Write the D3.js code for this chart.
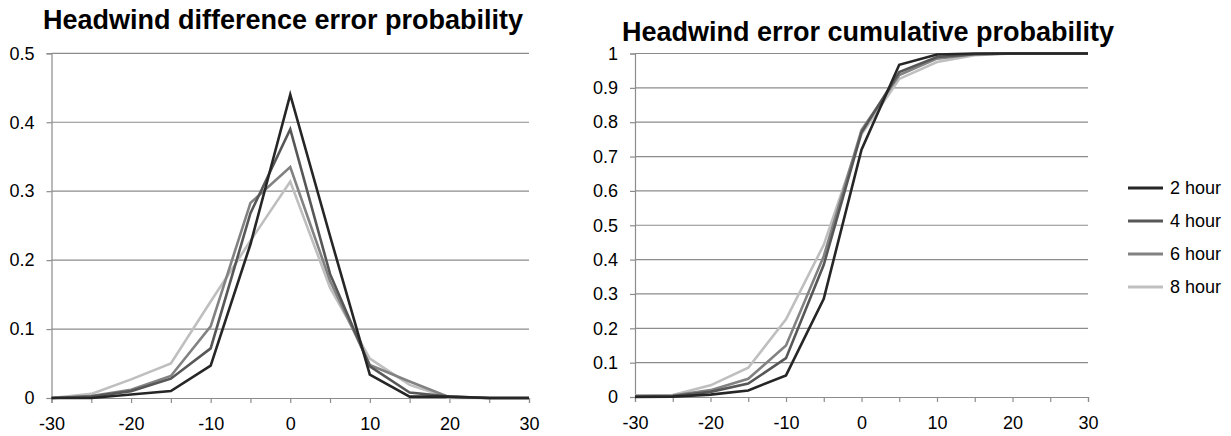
<!DOCTYPE html>
<html>
<head>
<meta charset="utf-8">
<script src="https://cdn.jsdelivr.net/npm/d3@7"></script>
<style>
  body { margin: 0; background: #fff; }
  svg { font-family: "Liberation Sans", Arial, sans-serif; }
</style>
</head>
<body>
<svg id="chart" width="1231" height="436"></svg>
<script>
// error bins (knots)
const errorBins = [-30, -25, -20, -15, -10, -5, 0, 5, 10, 15, 20, 25, 30];
const seriesNames = ["2 hour", "4 hour", "6 hour", "8 hour"];
const seriesColors = ["#262626", "#575757", "#828282", "#bfbfbf"];

// probability of each error bin
const prob2h = [0, 0, 0.005, 0.01, 0.047, 0.223, 0.44, 0.235, 0.034, 0.002, 0.002, 0, 0];
const prob4h = [0, 0.002, 0.01, 0.028, 0.072, 0.268, 0.39, 0.18, 0.046, 0.008, 0.002, 0, 0];
const prob6h = [0, 0.003, 0.012, 0.032, 0.104, 0.283, 0.335, 0.17, 0.048, 0.024, 0.001, 0, 0];
const prob8h = [0, 0.006, 0.027, 0.05, 0.14, 0.228, 0.314, 0.16, 0.057, 0.019, 0, 0, 0];

// cumulative probability
const cum2h = [0, 0.001, 0.007, 0.019, 0.063, 0.286, 0.72, 0.967, 0.997, 1, 1, 1, 1];
const cum4h = [0.002, 0.003, 0.015, 0.039, 0.113, 0.385, 0.77, 0.946, 0.99, 0.998, 1, 1, 1];
const cum6h = [0.003, 0.004, 0.02, 0.053, 0.15, 0.41, 0.777, 0.937, 0.985, 0.998, 1, 1, 1];
const cum8h = [0.005, 0.006, 0.034, 0.085, 0.226, 0.443, 0.765, 0.926, 0.975, 0.995, 1, 1, 1];

const xTicks = [-30, -20, -10, 0, 10, 20, 30];
const xMinorTicks = [-30, -25, -20, -15, -10, -5, 0, 5, 10, 15, 20, 25, 30];
const probTicks = [0, 0.1, 0.2, 0.3, 0.4, 0.5];
const cumTicks = [0, 0.1, 0.2, 0.3, 0.4, 0.5, 0.6, 0.7, 0.8, 0.9, 1];

const svg = d3.select("#chart");
const gridColor = "#8c8c8c";

const drawChart = (cfg) => {
    const g = svg.append("g");

    const x = d3.scaleLinear().domain([-30, 30]).range([cfg.left, cfg.right]);
    const y = d3.scaleLinear().domain([0, cfg.yMax]).range([cfg.bottom, cfg.top]);

    // title
    g.append("text")
        .attr("x", cfg.titleX)
        .attr("y", cfg.titleY)
        .attr("text-anchor", "middle")
        .style("font-size", "27px")
        .style("font-weight", "bold")
        .text(cfg.title);

    // horizontal gridlines
    g.selectAll(".grid")
        .data(cfg.yTicks.filter(d => d > 0))
        .enter().append("line")
        .attr("x1", cfg.left)
        .attr("x2", cfg.right)
        .attr("y1", d => y(d))
        .attr("y2", d => y(d))
        .attr("stroke", gridColor)
        .attr("stroke-width", 1.2);

    // y axis
    const yAxis = g.append("g")
        .attr("transform", `translate(${cfg.left},0)`)
        .call(d3.axisLeft(y).tickValues(cfg.yTicks).tickSize(5).tickPadding(12).tickFormat(d3.format("")));

    // x axis
    const xAxis = g.append("g")
        .attr("transform", `translate(0,${cfg.bottom})`)
        .call(d3.axisBottom(x).tickValues(xMinorTicks).tickSize(5).tickPadding(14)
            .tickFormat(d => xTicks.includes(d) ? d : ""));

    [yAxis, xAxis].forEach(a => {
        a.attr("font-size", 18).attr("font-family", "'Liberation Sans', Arial, sans-serif");
        a.select(".domain").attr("stroke", gridColor).attr("stroke-width", 1.2);
        a.selectAll(".tick line").attr("stroke", gridColor).attr("stroke-width", 1.2);
        a.selectAll("text").attr("fill", "#000");
    });

    const line = d3.line()
        .x((d, i) => x(errorBins[i]))
        .y(d => y(d));

    // draw lighter series first so darker ones sit on top
    cfg.series.slice().reverse().forEach((vals, k) => {
        const idx = cfg.series.length - 1 - k;
        g.append("path")
            .datum(vals)
            .attr("fill", "none")
            .attr("stroke", seriesColors[idx])
            .attr("stroke-width", 2.6)
            .attr("stroke-linejoin", "miter")
            .attr("d", line);
    });
};

drawChart({
    title: "Headwind difference error probability",
    titleX: 283, titleY: 29,
    left: 51.5, right: 529, top: 53.3, bottom: 398,
    yMax: 0.5, yTicks: probTicks,
    series: [prob2h, prob4h, prob6h, prob8h]
});

drawChart({
    title: "Headwind error cumulative probability",
    titleX: 868, titleY: 41,
    left: 635, right: 1088, top: 53.5, bottom: 397,
    yMax: 1, yTicks: cumTicks,
    series: [cum2h, cum4h, cum6h, cum8h]
});

// legend
const legend = svg.append("g").attr("transform", "translate(1128,188)");
seriesNames.forEach((name, i) => {
    const row = legend.append("g").attr("transform", `translate(0,${i * 33})`);
    row.append("line")
        .attr("x1", 0).attr("x2", 35)
        .attr("stroke", seriesColors[i])
        .attr("stroke-width", 2.8);
    row.append("text")
        .attr("x", 42)
        .attr("y", 0)
        .attr("dy", "0.36em")
        .style("font-size", "18px")
        .text(name);
});
</script>
</body>
</html>
